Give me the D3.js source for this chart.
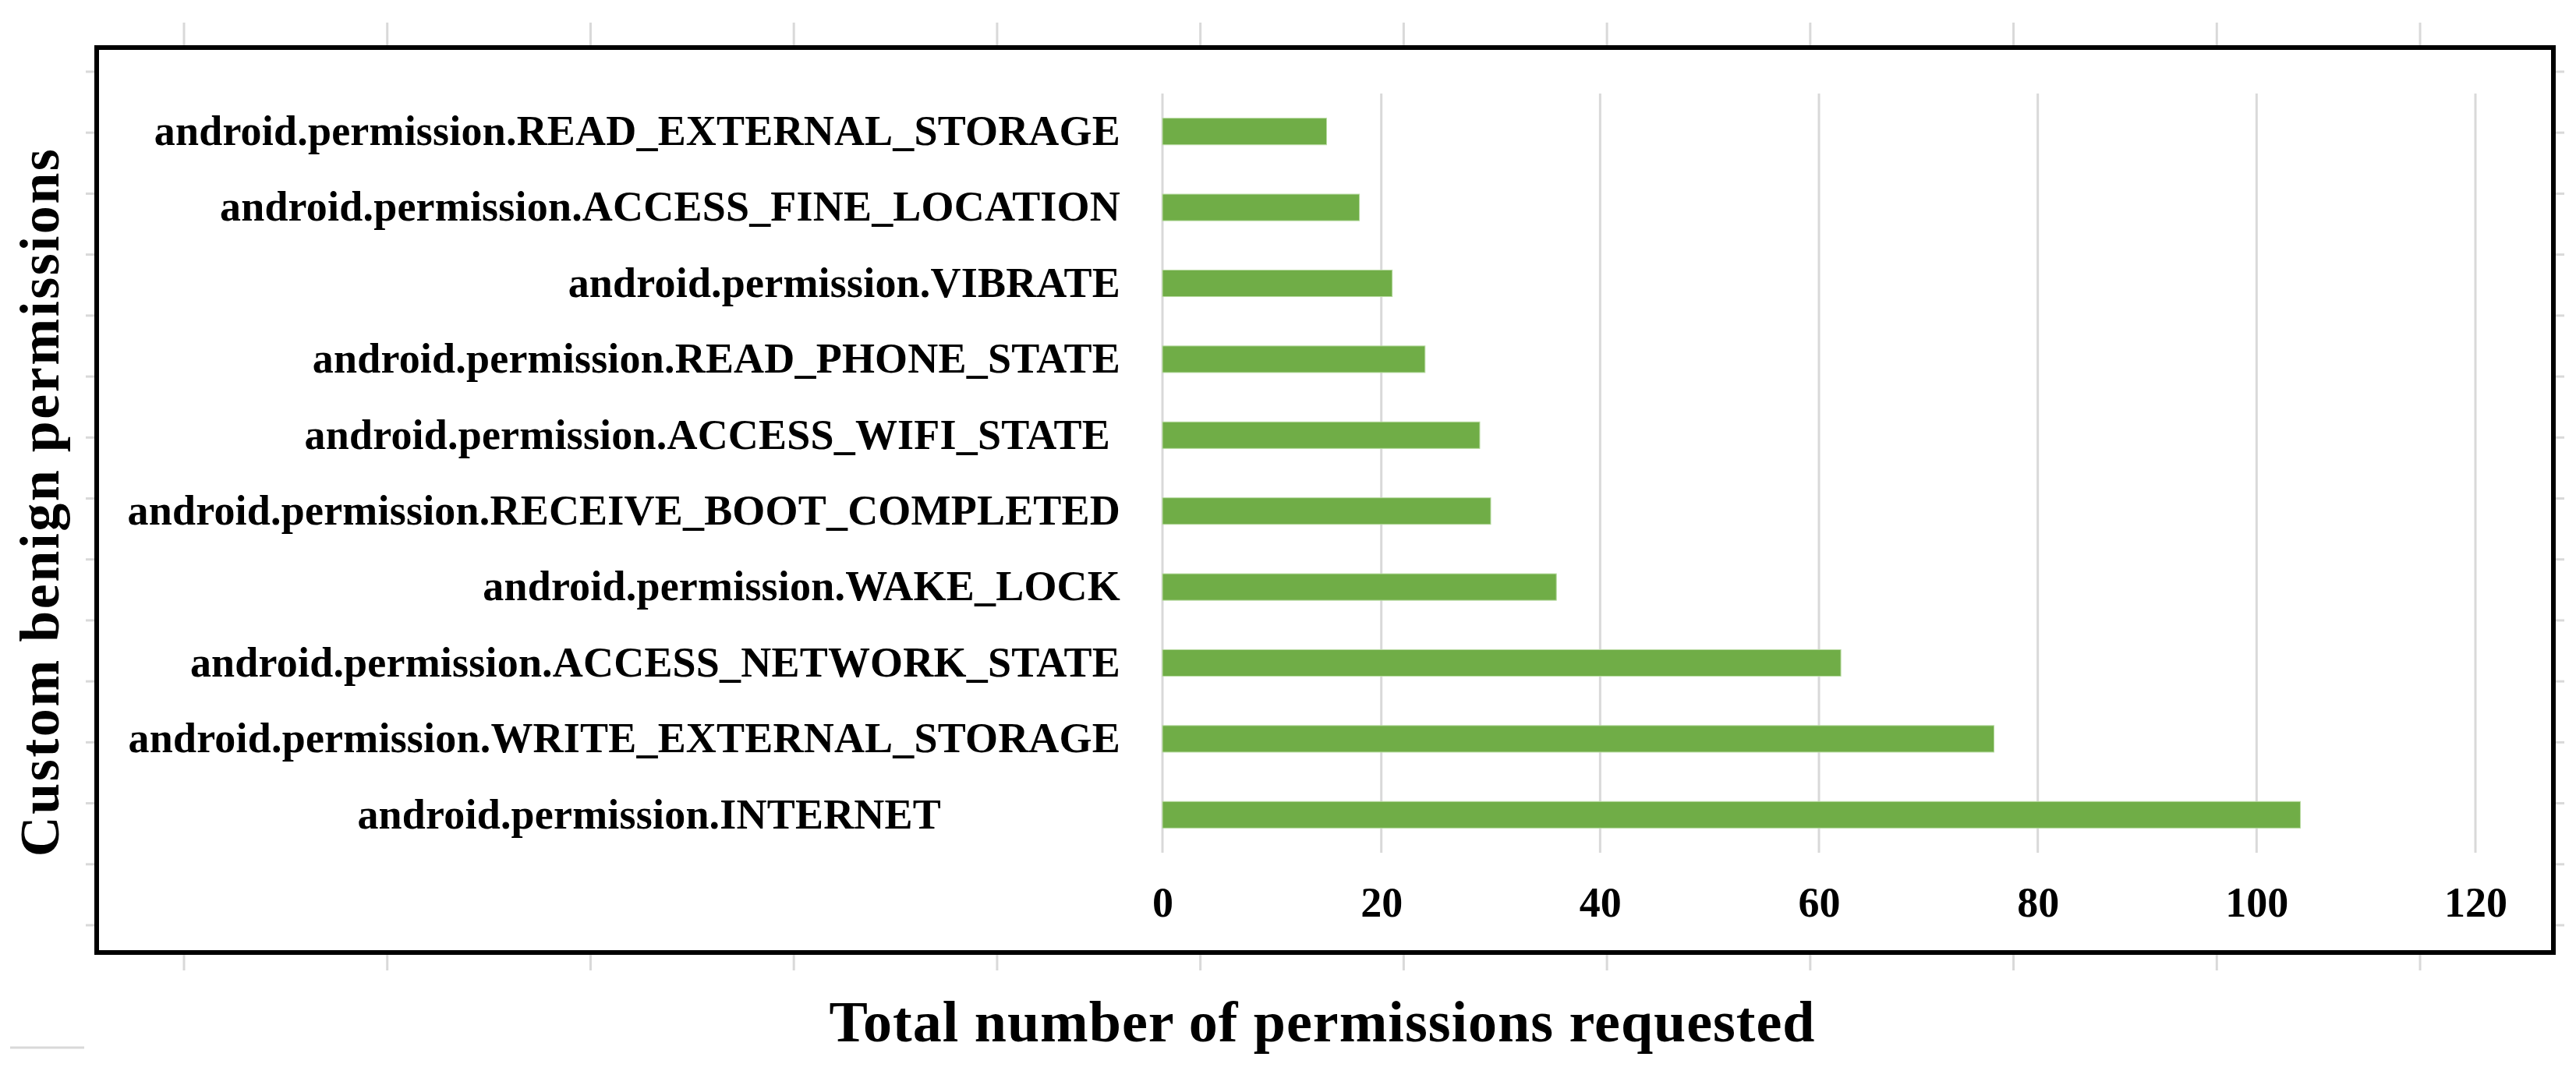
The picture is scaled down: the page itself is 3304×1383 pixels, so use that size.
<!DOCTYPE html>
<html>
<head>
<meta charset="utf-8">
<script src="https://cdn.jsdelivr.net/npm/d3@7"></script>
<style>
  body { margin: 0; background: #fff; }
  text { font-family: "Liberation Serif", "Times New Roman", serif; font-weight: bold; fill: #000; }
</style>
</head>
<body>
<script>
// chart data, top bar first
let categories = [
	"android.permission.READ_EXTERNAL_STORAGE",
	"android.permission.ACCESS_FINE_LOCATION",
	"android.permission.VIBRATE",
	"android.permission.READ_PHONE_STATE",
	"android.permission.ACCESS_WIFI_STATE",
	"android.permission.RECEIVE_BOOT_COMPLETED",
	"android.permission.WAKE_LOCK",
	"android.permission.ACCESS_NETWORK_STATE",
	"android.permission.WRITE_EXTERNAL_STORAGE",
	"android.permission.INTERNET"
];
let counts = [15, 18, 21, 24, 29, 30, 36, 62, 76, 104];
let xTicks = [0, 20, 40, 60, 80, 100, 120];

let xTitle = "Total number of permissions requested";
let yTitle = "Custom benign permissions";

let width = 3304;
let height = 1383;

// plot area inside the black frame
let plot = {left: 1491, right: 3175, top: 120, bottom: 1094};
let frame = {x: 124, y: 61, w: 3151, h: 1161};
let grid = "#d9d9d9";

// some labels sit off the common right edge in the original
let labelNudge = {
	"android.permission.ACCESS_WIFI_STATE": -13,
	"android.permission.INTERNET": -230
};

let data = categories.map(function(c, i) { return {name: c, value: counts[i]}; });

let svg = d3.select("body").append("svg")
	.attr("width", width)
	.attr("height", height);

svg.append("rect")
	.attr("width", width).attr("height", height)
	.attr("fill", "#fff");

let xScale = d3.scaleLinear().domain([0, 120]).range([plot.left, plot.right]);
let yScale = d3.scaleBand()
	.domain(categories)
	.range([plot.top, plot.bottom])
	.paddingInner(0.65)
	.paddingOuter(0.325);

// faint ticks of the outer chart area, outside the frame
let outerX = d3.scaleLinear().domain([0, 11]).range([236, 3104]);
let outerY = d3.scaleLinear().domain([0, 14]).range([92, 1187]);
let outer = svg.append("g").attr("stroke", grid).attr("stroke-width", 3);

outer.selectAll(".otop").data(d3.range(12)).enter().append("line")
	.attr("x1", d => outerX(d)).attr("x2", d => outerX(d))
	.attr("y1", 29).attr("y2", frame.y);
outer.selectAll(".obottom").data(d3.range(12)).enter().append("line")
	.attr("x1", d => outerX(d)).attr("x2", d => outerX(d))
	.attr("y1", frame.y + frame.h).attr("y2", 1245);
outer.selectAll(".oleft").data(d3.range(15)).enter().append("line")
	.attr("x1", 110).attr("x2", frame.x)
	.attr("y1", d => outerY(d)).attr("y2", d => outerY(d));
outer.selectAll(".oright").data(d3.range(15)).enter().append("line")
	.attr("x1", frame.x + frame.w).attr("x2", 3289)
	.attr("y1", d => outerY(d)).attr("y2", d => outerY(d));
outer.append("line")
	.attr("x1", 13).attr("x2", 108)
	.attr("y1", 1344).attr("y2", 1344);

// vertical gridlines
svg.append("g").selectAll("line")
	.data(xTicks)
	.enter().append("line")
		.attr("x1", d => xScale(d)).attr("x2", d => xScale(d))
		.attr("y1", plot.top).attr("y2", plot.bottom)
		.attr("stroke", grid)
		.attr("stroke-width", 3);

// bars
svg.append("g").selectAll("rect")
	.data(data)
	.enter().append("rect")
		.attr("x", xScale(0))
		.attr("y", d => yScale(d.name))
		.attr("width", d => xScale(d.value) - xScale(0))
		.attr("height", yScale.bandwidth())
		.attr("fill", "#70ad47")
		.attr("stroke", "#b9dba3")
		.attr("stroke-width", 1);

// x tick labels
let xAxis = svg.append("g")
	.attr("transform", "translate(0," + plot.bottom + ")")
	.call(d3.axisBottom(xScale).tickValues(xTicks).tickSize(0).tickPadding(44));
xAxis.select(".domain").remove();
xAxis.selectAll("text")
	.attr("font-size", 54)
	.attr("font-family", null);

// category labels
let yAxis = svg.append("g")
	.attr("transform", "translate(" + plot.left + ",0)")
	.call(d3.axisLeft(yScale).tickSize(0).tickPadding(54));
yAxis.select(".domain").remove();
yAxis.selectAll("text")
	.attr("font-size", 54)
	.attr("letter-spacing", 0.2)
	.attr("font-family", null)
	.attr("dx", d => labelNudge[d] || 0);

// black frame
svg.append("rect")
	.attr("x", frame.x).attr("y", frame.y)
	.attr("width", frame.w).attr("height", frame.h)
	.attr("fill", "none")
	.attr("stroke", "#000")
	.attr("stroke-width", 6);

// axis titles
svg.append("text")
	.attr("x", 1696).attr("y", 1336)
	.attr("text-anchor", "middle")
	.attr("font-size", 74)
	.attr("letter-spacing", 1)
	.text(xTitle);

svg.append("text")
	.attr("transform", "translate(75,644) rotate(-90)")
	.attr("text-anchor", "middle")
	.attr("font-size", 72)
	.attr("letter-spacing", 2.5)
	.text(yTitle);
</script>
</body>
</html>
